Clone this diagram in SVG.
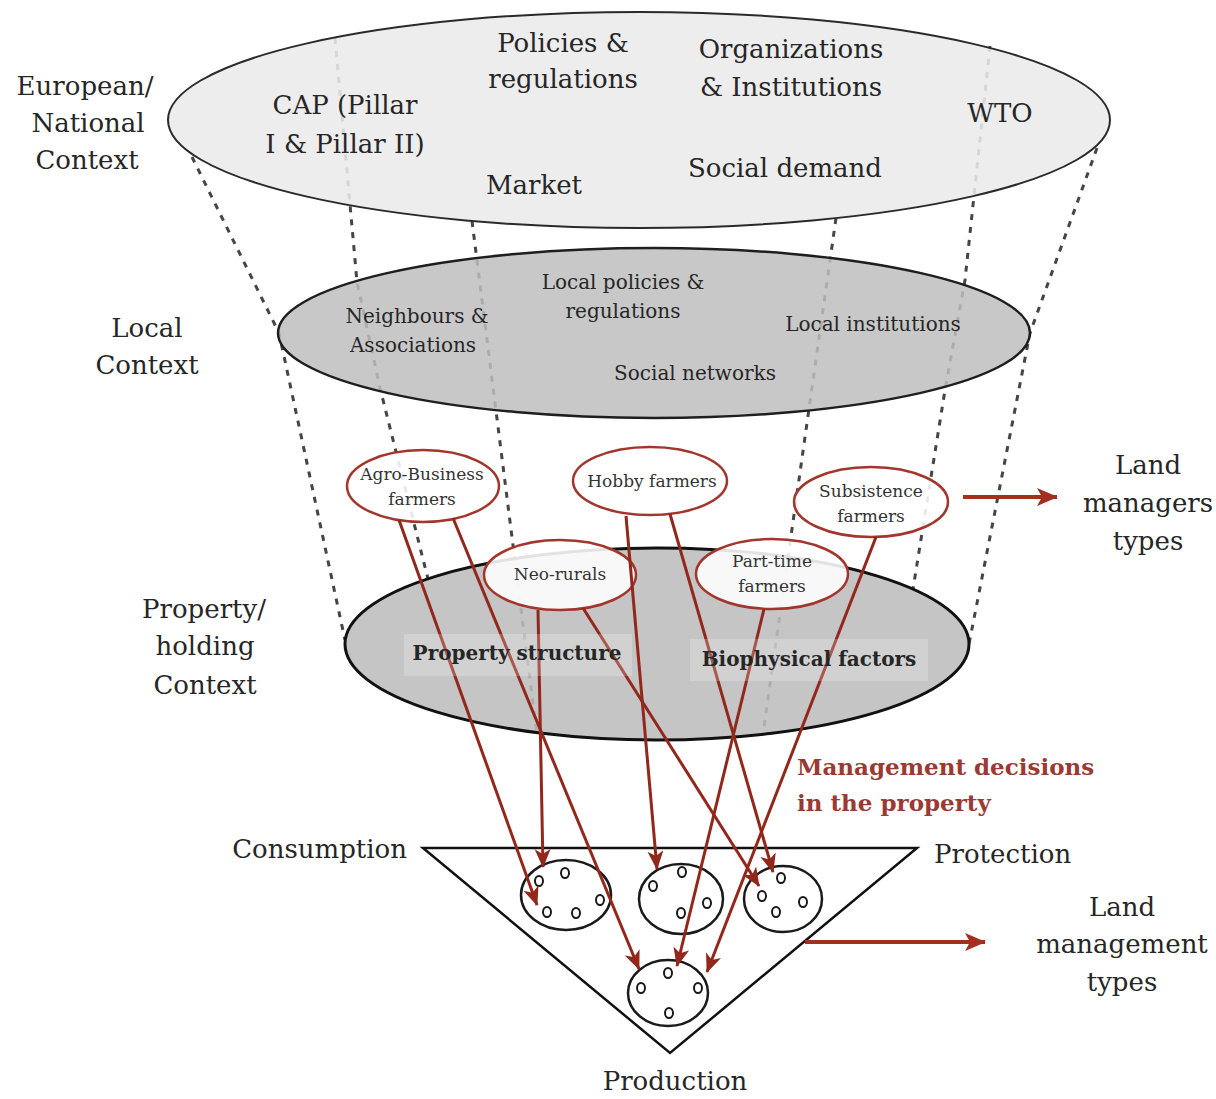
<svg xmlns="http://www.w3.org/2000/svg" width="1216" height="1099" viewBox="0 0 1216 1099">
  <defs>
    <style>
      text { font-family: "DejaVu Serif", "Liberation Serif", serif; fill: #262626; }
      .big { font-size: 26px; }
      .mid { font-size: 20px; }
      .small { font-size: 17px; fill: #333; }
      .bold { font-size: 20px; font-weight: bold; }
      .mgmt { font-size: 23px; font-weight: bold; fill: #9a3a33; }
      .c { text-anchor: middle; }
      .dash { fill: none; stroke: #454545; stroke-width: 3; stroke-dasharray: 6 7; }
      .farmer { fill: #ffffff; fill-opacity: 0.88; stroke: #a3362c; stroke-width: 2.5; }
      .flow { stroke: #92281c; stroke-width: 3; fill: none; marker-end: url(#head); }
      .out { stroke: #a3301f; stroke-width: 4; fill: none; marker-end: url(#bighead); }
      .cluster { fill: none; stroke: #1a1a1a; stroke-width: 2.5; }
      .dot { fill: none; stroke: #1a1a1a; stroke-width: 2; }
      .tag { fill: #ffffff; fill-opacity: 0.22; }
    </style>
    <marker id="head" markerUnits="userSpaceOnUse" markerWidth="22" markerHeight="20" refX="18" refY="8" orient="auto">
      <path d="M0,0 L19,8 L0,16 L5,8 z" fill="#92281c"/>
    </marker>
    <marker id="bighead" markerUnits="userSpaceOnUse" markerWidth="24" markerHeight="20" refX="20" refY="9" orient="auto">
      <path d="M0,0 L21,9 L0,18 L5,9 z" fill="#a3301f"/>
    </marker>
  </defs>

  <rect width="1216" height="1099" fill="#ffffff"/>

  <!-- funnel guide lines between the context levels -->
  <g id="funnel-lines">
    <polyline class="dash" points="192,157 279,333 345,640"/>
    <polyline class="dash" points="335,38 357,282 380,388 428,579"/>
    <line class="dash" x1="472" y1="221" x2="537" y2="735"/>
    <line class="dash" x1="836" y1="218" x2="763" y2="734"/>
    <polyline class="dash" points="990,46 965,280 945,390 913,589"/>
    <polyline class="dash" points="1097,148 1030,333 969,644"/>
  </g>

  <!-- side labels -->
  <g id="level-labels">
    <text class="big c" x="85" y="95">European/</text>
    <text class="big c" x="88" y="132">National</text>
    <text class="big c" x="87" y="169">Context</text>
    <text class="big c" x="147" y="337">Local</text>
    <text class="big c" x="147" y="374">Context</text>
    <text class="big c" x="204" y="618">Property/</text>
    <text class="big c" x="205" y="655">holding</text>
    <text class="big c" x="205" y="694">Context</text>
  </g>

  <!-- European / national level -->
  <g id="european-context">
    <ellipse cx="639" cy="120" rx="471" ry="108" fill="#eaeaea" fill-opacity="0.88" stroke="#2a2a2a" stroke-width="2"/>
    <text class="big c" x="563" y="52">Policies &amp;</text>
    <text class="big c" x="563" y="88">regulations</text>
    <text class="big c" x="791" y="58">Organizations</text>
    <text class="big c" x="791" y="96">&amp; Institutions</text>
    <text class="big c" x="345" y="114">CAP (Pillar</text>
    <text class="big c" x="345" y="153">I &amp; Pillar II)</text>
    <text class="big c" x="1000" y="122">WTO</text>
    <text class="big c" x="534" y="194">Market</text>
    <text class="big c" x="785" y="177">Social demand</text>
  </g>

  <!-- local level -->
  <g id="local-context">
    <ellipse cx="654" cy="333" rx="376" ry="85" fill="#bebebe" fill-opacity="0.85" stroke="#1e1e1e" stroke-width="2.5"/>
    <text class="mid c" x="417" y="323">Neighbours &amp;</text>
    <text class="mid c" x="413" y="352">Associations</text>
    <text class="mid c" x="623" y="289">Local policies &amp;</text>
    <text class="mid c" x="623" y="318">regulations</text>
    <text class="mid c" x="873" y="331">Local institutions</text>
    <text class="mid c" x="695" y="380">Social networks</text>
  </g>

  <!-- property / holding level -->
  <g id="property-context">
    <ellipse cx="657" cy="644" rx="312" ry="96" fill="#bdbdbd" fill-opacity="0.88" stroke="#111111" stroke-width="3"/>
  </g>

  <!-- land manager types -->
  <g id="agro-business">
    <ellipse class="farmer" cx="423" cy="486" rx="76" ry="36"/>
    <text class="small c" x="422" y="480">Agro-Business</text>
    <text class="small c" x="422" y="505">farmers</text>
  </g>
  <g id="hobby">
    <ellipse class="farmer" cx="650" cy="481" rx="77" ry="34"/>
    <text class="small c" x="652" y="487">Hobby farmers</text>
  </g>
  <g id="subsistence">
    <ellipse class="farmer" cx="871" cy="502" rx="77" ry="35"/>
    <text class="small c" x="871" y="497">Subsistence</text>
    <text class="small c" x="871" y="522">farmers</text>
  </g>
  <g id="neo-rurals">
    <ellipse class="farmer" cx="560" cy="575" rx="76" ry="35"/>
    <text class="small c" x="560" y="580">Neo-rurals</text>
  </g>
  <g id="part-time">
    <ellipse class="farmer" cx="772" cy="574" rx="76" ry="35"/>
    <text class="small c" x="772" y="567">Part-time</text>
    <text class="small c" x="772" y="592">farmers</text>
  </g>

  <!-- land management triangle -->
  <g id="management-triangle">
    <polygon points="423,848 917,848 670,1053" fill="none" stroke="#111111" stroke-width="2.5"/>
    <text class="big" x="407" y="858" text-anchor="end">Consumption</text>
    <text class="big" x="934" y="863">Protection</text>
    <text class="big c" x="675" y="1090">Production</text>
  </g>
  <g id="cluster-consumption">
    <ellipse class="cluster" cx="566" cy="895" rx="45" ry="35"/>
    <ellipse class="dot" cx="539" cy="881" rx="4" ry="5"/>
    <ellipse class="dot" cx="565" cy="873" rx="4" ry="5"/>
    <ellipse class="dot" cx="547" cy="912" rx="4" ry="5"/>
    <ellipse class="dot" cx="576" cy="913" rx="4" ry="5"/>
    <ellipse class="dot" cx="600" cy="900" rx="4" ry="5"/>
  </g>
  <g id="cluster-middle">
    <ellipse class="cluster" cx="681" cy="899" rx="42" ry="35"/>
    <ellipse class="dot" cx="653" cy="886" rx="4" ry="5"/>
    <ellipse class="dot" cx="682" cy="872" rx="4" ry="5"/>
    <ellipse class="dot" cx="707" cy="903" rx="4" ry="5"/>
    <ellipse class="dot" cx="681" cy="913" rx="4" ry="5"/>
  </g>
  <g id="cluster-protection">
    <ellipse class="cluster" cx="783" cy="899" rx="39" ry="33"/>
    <ellipse class="dot" cx="762" cy="896" rx="4" ry="5"/>
    <ellipse class="dot" cx="781" cy="878" rx="4" ry="5"/>
    <ellipse class="dot" cx="803" cy="902" rx="4" ry="5"/>
    <ellipse class="dot" cx="776" cy="912" rx="4" ry="5"/>
  </g>
  <g id="cluster-production">
    <ellipse class="cluster" cx="668" cy="993" rx="40" ry="33"/>
    <ellipse class="dot" cx="641" cy="988" rx="4" ry="5"/>
    <ellipse class="dot" cx="668" cy="973" rx="4" ry="5"/>
    <ellipse class="dot" cx="698" cy="988" rx="4" ry="5"/>
    <ellipse class="dot" cx="669" cy="1013" rx="4" ry="5"/>
  </g>

  <!-- management decisions: manager types to land management clusters -->
  <g id="connectors">
    <line class="flow" x1="399" y1="520" x2="537" y2="905"/>
    <line class="flow" x1="453" y1="518" x2="639" y2="969"/>
    <line class="flow" x1="538" y1="610" x2="543" y2="867"/>
    <line class="flow" x1="583" y1="608" x2="759" y2="886"/>
    <line class="flow" x1="626" y1="516" x2="657" y2="869"/>
    <line class="flow" x1="670" y1="514" x2="773" y2="872"/>
    <line class="flow" x1="764" y1="609" x2="677" y2="966"/>
    <line class="flow" x1="876" y1="537" x2="707" y2="972"/>
    <line class="out" x1="963" y1="497" x2="1057" y2="497"/>
    <line class="out" x1="805" y1="942" x2="985" y2="942"/>
  </g>

  <!-- property level factor labels -->
  <g id="property-factors">
    <rect class="tag" x="404" y="634" width="228" height="42"/>
    <text class="bold c" x="517" y="660">Property structure</text>
    <rect class="tag" x="690" y="639" width="238" height="42"/>
    <text class="bold c" x="809" y="666">Biophysical factors</text>
  </g>

  <g id="decisions-label">
    <text class="mgmt" x="797" y="775">Management decisions</text>
    <text class="mgmt" x="797" y="811">in the property</text>
  </g>

  <g id="outcome-labels">
    <text class="big c" x="1148" y="474">Land</text>
    <text class="big c" x="1148" y="512">managers</text>
    <text class="big c" x="1148" y="550">types</text>
    <text class="big c" x="1122" y="916">Land</text>
    <text class="big c" x="1122" y="953">management</text>
    <text class="big c" x="1122" y="991">types</text>
  </g>
</svg>
